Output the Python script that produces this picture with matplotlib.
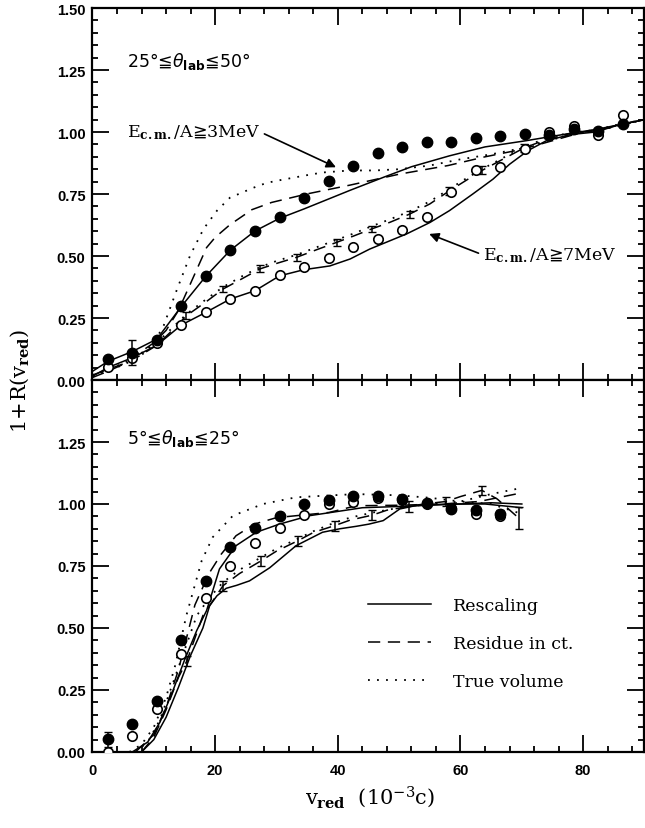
import matplotlib
matplotlib.use("Agg")
import matplotlib.pyplot as plt
from matplotlib.ticker import MultipleLocator, FuncFormatter

# measured points, every 4 units of v_red
v_top = [2.5, 6.5, 10.5, 14.5, 18.5, 22.5, 26.5, 30.5, 34.5, 38.5, 42.5,
         46.5, 50.5, 54.5, 58.5, 62.5, 66.5, 70.5, 74.5, 78.5, 82.5, 86.5]
top_e3 = [0.085, 0.110, 0.163, 0.297, 0.419, 0.524, 0.601, 0.659, 0.733, 0.804, 0.864,
          0.915, 0.941, 0.958, 0.961, 0.977, 0.985, 0.993, 0.990, 1.012, 1.005, 1.032]
top_e3_err = [0, 0.05, 0, 0, 0, 0, 0, 0, 0, 0, 0, 0, 0, 0, 0, 0, 0, 0, 0, 0, 0, 0]
top_e7 = [0.054, 0.090, 0.150, 0.222, 0.273, 0.327, 0.360, 0.422, 0.454, 0.493, 0.538,
          0.569, 0.606, 0.659, 0.757, 0.848, 0.857, 0.931, 1.001, 1.025, 0.988, 1.070]

v_bot = [2.5, 6.5, 10.5, 14.5, 18.5, 22.5, 26.5, 30.5, 34.5, 38.5, 42.5,
         46.5, 50.5, 54.5, 58.5, 62.5, 66.5]
bot_e3 = [0.052, 0.113, 0.204, 0.453, 0.688, 0.825, 0.903, 0.950, 1.000, 1.017, 1.033,
          1.033, 1.022, 1.004, 0.980, 0.975, 0.960]
bot_e3_err = [0.03, 0, 0, 0, 0, 0, 0, 0, 0, 0, 0, 0, 0, 0, 0, 0, 0.015]
bot_e7 = [0.000, 0.066, 0.173, 0.395, 0.620, 0.751, 0.843, 0.902, 0.956, 1.000, 1.010,
          1.025, 1.015, 1.000, 0.985, 0.958, 0.950]

# model curves, top panel (25-50 deg)
t3_sol_x = [0, 2.5, 6.5, 10.5, 14.5, 18.5, 22.5, 26.5, 30.5, 34.5, 38.5, 42, 47.4, 52,
            58.2, 64, 70.7, 74.3, 78, 82, 86, 90]
t3_sol_y = [0.035, 0.075, 0.115, 0.165, 0.297, 0.419, 0.524, 0.601, 0.652, 0.69, 0.73,
            0.765, 0.817, 0.86, 0.904, 0.94, 0.965, 0.98, 0.995, 1.01, 1.03, 1.05]
t3_das_x = [0, 5, 10, 12, 14, 16, 18.6, 20, 22.4, 26, 29.2, 34.9, 42, 50, 58, 64, 70,
            75, 80, 85, 90]
t3_das_y = [0.02, 0.065, 0.15, 0.2, 0.28, 0.39, 0.534, 0.575, 0.626, 0.687, 0.716, 0.75,
            0.786, 0.83, 0.865, 0.9, 0.93, 0.965, 1.0, 1.02, 1.05]
t3_dot_x = [0, 5, 8, 10, 11.6, 13.8, 15.9, 18.1, 20.3, 22.4, 24.3, 26.2, 28.4, 30.6, 33,
            35.4, 37.6, 42, 46, 50, 55, 60, 65, 70, 75, 80, 85, 90]
t3_dot_y = [0.02, 0.06, 0.1, 0.15, 0.219, 0.367, 0.501, 0.609, 0.683, 0.735, 0.755, 0.775,
            0.795, 0.806, 0.817, 0.828, 0.837, 0.845, 0.845, 0.85, 0.865, 0.89, 0.91,
            0.935, 0.97, 1.0, 1.02, 1.05]
t7_sol_x = [0, 2.5, 6.5, 10.5, 14.5, 18.5, 22.5, 26.5, 30.5, 34.5, 38.7, 42, 45.2, 51.2,
            55, 58.2, 62, 65.3, 68, 71, 74, 78, 82, 86, 90]
t7_sol_y = [0.015, 0.05, 0.09, 0.14, 0.222, 0.273, 0.327, 0.36, 0.42, 0.445, 0.46, 0.488,
            0.528, 0.589, 0.635, 0.683, 0.75, 0.81, 0.87, 0.925, 0.965, 0.99, 1.0, 1.03,
            1.05]
t7_das_x = [0, 2.5, 6.5, 10.5, 13, 15.3, 18.5, 21.3, 24.5, 27.3, 30, 33.3, 36.5, 39.8,
            42.5, 45.5, 48.5, 51.7, 55, 58.2, 60.4, 63.5, 66.5, 70.3, 74, 78, 82, 86, 90]
t7_das_y = [0.01, 0.035, 0.08, 0.14, 0.2, 0.259, 0.315, 0.367, 0.41, 0.448, 0.47, 0.495,
            0.525, 0.555, 0.58, 0.609, 0.636, 0.669, 0.71, 0.763, 0.797, 0.845, 0.885,
            0.935, 0.97, 0.995, 1.005, 1.03, 1.05]
t7_dot_y = [0.015, 0.04, 0.085, 0.15, 0.21, 0.265, 0.325, 0.375, 0.42, 0.455, 0.48, 0.505,
            0.535, 0.565, 0.59, 0.62, 0.648, 0.68, 0.72, 0.77, 0.805, 0.85, 0.89, 0.94,
            0.975, 0.998, 1.008, 1.032, 1.05]
t7_err_x = [15.3, 21.3, 27.3, 33.3, 39.8, 45.5, 51.7, 58.2, 63.5, 70.3]
t7_err_y = [0.259, 0.367, 0.448, 0.495, 0.555, 0.609, 0.669, 0.763, 0.845, 0.935]
t7_err = [0.014, 0.014, 0.014, 0.014, 0.014, 0.014, 0.014, 0.016, 0.016, 0.016]

# model curves, bottom panel (5-25 deg)
b3_sol_x = [6.5, 9, 11, 13, 15, 17, 18.6, 20.7, 23.4, 26.7, 30.5, 35.4, 40.8, 44, 50, 55,
            60, 65, 70]
b3_sol_y = [0, 0.04, 0.12, 0.24, 0.37, 0.49, 0.57, 0.738, 0.832, 0.886, 0.919, 0.953,
            0.973, 0.985, 0.99, 0.995, 1.0, 1.005, 1.0]
b3_das_x = [7, 10, 12, 14, 16.7, 19, 21, 23.4, 26.4, 30, 38.6, 43, 50, 57, 63, 70]
b3_das_y = [0, 0.07, 0.18, 0.33, 0.593, 0.72, 0.798, 0.872, 0.919, 0.945, 0.966, 0.993,
            0.995, 1.0, 1.01, 1.045]
b3_dot_x = [6, 8, 10, 12, 13.5, 15.3, 17.8, 19.6, 22.9, 27.8, 33.2, 37.5, 43, 50, 55, 60,
            65, 70]
b3_dot_y = [0, 0.03, 0.1, 0.22, 0.35, 0.55, 0.771, 0.866, 0.953, 1.0, 1.027, 1.033, 1.04,
            1.035, 1.025, 1.01, 1.04, 1.065]
b7_sol_x = [8, 10, 12, 14, 16, 18, 19.1, 20.3, 21.8, 23.5, 25.6, 28.9, 33.2, 37.5, 40.3,
            43, 45.1, 47.4, 50.1, 53, 58, 64, 70]
b7_sol_y = [0, 0.05, 0.14, 0.26, 0.39, 0.5, 0.59, 0.63, 0.66, 0.672, 0.69, 0.743, 0.832,
            0.886, 0.9, 0.91, 0.919, 0.933, 0.98, 0.995, 1.0, 1.0, 0.985]
b7_das_x = [8, 10, 12, 14, 15.4, 18, 21.3, 24, 27.5, 30, 33.5, 36, 39.5, 42, 45.6, 48,
            51.6, 54, 57.6, 60, 63.5, 66, 69.5]
b7_das_y = [0, 0.06, 0.17, 0.3, 0.368, 0.55, 0.671, 0.72, 0.771, 0.81, 0.852, 0.885,
            0.913, 0.935, 0.955, 0.975, 0.99, 1.0, 1.01, 1.03, 1.055, 1.02, 0.943]
b7_dot_x = [7, 9, 11, 13, 15, 17, 19, 21.3, 24, 27.5, 30, 33.5, 36, 39.5, 42, 45.6, 50,
            55, 60, 65, 70]
b7_dot_y = [0, 0.04, 0.13, 0.27, 0.41, 0.55, 0.62, 0.685, 0.735, 0.785, 0.82, 0.86, 0.89,
            0.925, 0.945, 0.965, 0.985, 1.0, 1.01, 1.0, 0.96]
b7_err_x = [15.4, 21.3, 27.5, 33.5, 39.5, 45.6, 51.6, 57.6, 63.5, 69.5]
b7_err_y = [0.368, 0.671, 0.771, 0.852, 0.913, 0.955, 0.99, 1.01, 1.055, 0.943]
b7_err = [0.02, 0.02, 0.02, 0.02, 0.02, 0.02, 0.023, 0.02, 0.019, 0.044]

SOLID = "-"
DASH = (0, (8, 5))
DOT = (0, (1, 4))

fig = plt.figure(figsize=(6.45, 8.29), dpi=100)
ax_top = fig.add_axes([0.1434, 0.5404, 0.8558, 0.4487])
ax_bot = fig.add_axes([0.1434, 0.0917, 0.8558, 0.4487])


def style(ax):
    ax.set_xlim(0, 90)
    ax.set_ylim(0, 1.5)
    ax.xaxis.set_major_locator(MultipleLocator(20))
    ax.xaxis.set_minor_locator(MultipleLocator(4))
    ax.yaxis.set_major_locator(MultipleLocator(0.25))
    ax.yaxis.set_minor_locator(MultipleLocator(0.05))
    ax.tick_params(which="both", direction="in", top=True, right=True, width=1.3)
    ax.tick_params(which="major", length=12)
    ax.tick_params(which="minor", length=4.5)
    ax.tick_params(axis="x", pad=8)
    ax.tick_params(axis="y", pad=5)
    for s in ax.spines.values():
        s.set_linewidth(1.6)


def curve(ax, x, y, ls):
    lw = 1.3 if ls == DOT else 1.1
    ax.plot(x, y, color="k", lw=lw, ls=ls, zorder=2)


def points(ax, x, y, filled, yerr=None):
    if filled:
        ax.errorbar(x, y, yerr=yerr, fmt="o", ms=7.5, color="k", ecolor="k",
                    elinewidth=1.1, capsize=3, zorder=4)
    else:
        ax.plot(x, y, "o", ms=6.8, mfc="white", mec="k", mew=1.2, zorder=3)


# top panel
curve(ax_top, t3_sol_x, t3_sol_y, SOLID)
curve(ax_top, t3_das_x, t3_das_y, DASH)
curve(ax_top, t3_dot_x, t3_dot_y, DOT)
curve(ax_top, t7_sol_x, t7_sol_y, SOLID)
curve(ax_top, t7_das_x, t7_das_y, DASH)
curve(ax_top, t7_das_x, t7_dot_y, DOT)
ax_top.errorbar(t7_err_x, t7_err_y, yerr=t7_err, fmt="none", ecolor="k",
                elinewidth=1.1, capsize=3, zorder=2)
points(ax_top, v_top, top_e7, False)
points(ax_top, v_top, top_e3, True, top_e3_err)

# bottom panel
curve(ax_bot, b3_sol_x, b3_sol_y, SOLID)
curve(ax_bot, b3_das_x, b3_das_y, DASH)
curve(ax_bot, b3_dot_x, b3_dot_y, DOT)
curve(ax_bot, b7_sol_x, b7_sol_y, SOLID)
curve(ax_bot, b7_das_x, b7_das_y, DASH)
curve(ax_bot, b7_dot_x, b7_dot_y, DOT)
ax_bot.errorbar(b7_err_x, b7_err_y, yerr=b7_err, fmt="none", ecolor="k",
                elinewidth=1.1, capsize=3, zorder=2)
points(ax_bot, v_bot, bot_e7, False)
points(ax_bot, v_bot, bot_e3, True, bot_e3_err)

style(ax_top)
style(ax_bot)
ax_top.tick_params(labelbottom=False)
ax_bot.yaxis.set_major_formatter(FuncFormatter(lambda v, p: "" if v > 1.4 else f"{v:.2f}"))
ax_top.yaxis.set_major_formatter(FuncFormatter(lambda v, p: f"{v:.2f}"))
for ax in (ax_top, ax_bot):
    for lab in ax.get_yticklabels() + ax.get_xticklabels():
        lab.set_fontfamily("Liberation Sans")
        lab.set_fontweight("bold")
        lab.set_fontsize(10.5)

# panel labels
ax_top.text(5.6, 1.29, r"25°≦$\theta_{\mathbf{lab}}$≦50°", fontsize=12.5,
            family="DejaVu Sans", math_fontfamily="dejavusans", va="center")
ax_bot.text(5.6, 1.27, r"5°≦$\theta_{\mathbf{lab}}$≦25°", fontsize=12.5,
            family="DejaVu Sans", math_fontfamily="dejavusans", va="center")

arrow = dict(arrowstyle="-|>", color="k", lw=1.2, mutation_scale=14,
             shrinkA=1, shrinkB=0)
ax_top.annotate(r"$\mathrm{E}_{\mathbf{c.m.}}\mathrm{/A}$≧$\mathrm{3MeV}$",
                xy=(39.7, 0.858), xytext=(5.6, 1.0), va="center", ha="left",
                fontsize=12.5, math_fontfamily="dejavuserif",
                arrowprops=dict(arrow, relpos=(1, 0.5)))
ax_top.annotate(r"$\mathrm{E}_{\mathbf{c.m.}}\mathrm{/A}$≧$\mathrm{7MeV}$",
                xy=(54.9, 0.589), xytext=(63.6, 0.505), va="center", ha="left",
                fontsize=12.5, math_fontfamily="dejavuserif",
                arrowprops=dict(arrow, relpos=(0, 0.5)))

# legend
handles = [plt.Line2D([], [], color="k", lw=1.1, ls=SOLID),
           plt.Line2D([], [], color="k", lw=1.1, ls=DASH),
           plt.Line2D([], [], color="k", lw=1.3, ls=DOT)]
ax_bot.legend(handles, ["Rescaling", "Residue in ct.", "True volume"],
              loc="upper left", bbox_to_anchor=(368 / 645, 1 - 598 / 829),
              bbox_transform=fig.transFigure, frameon=False, borderpad=0,
              borderaxespad=0, handlelength=3.6, handletextpad=1.3,
              labelspacing=1.2, prop={"family": "DejaVu Serif", "size": 12.5})

fig.text(0.574, 0.038, r"$\mathrm{v}_{\mathbf{red}}\ \ (10^{-3}\mathrm{c})$",
         fontsize=15, math_fontfamily="dejavuserif", ha="center", va="center")
fig.text(0.03, 0.5404, r"$\mathrm{1\!+\!R(v_{\mathbf{red}})}$", fontsize=15,
         math_fontfamily="dejavuserif", rotation=90, ha="center", va="center")

fig.savefig("out.png", dpi=100)
